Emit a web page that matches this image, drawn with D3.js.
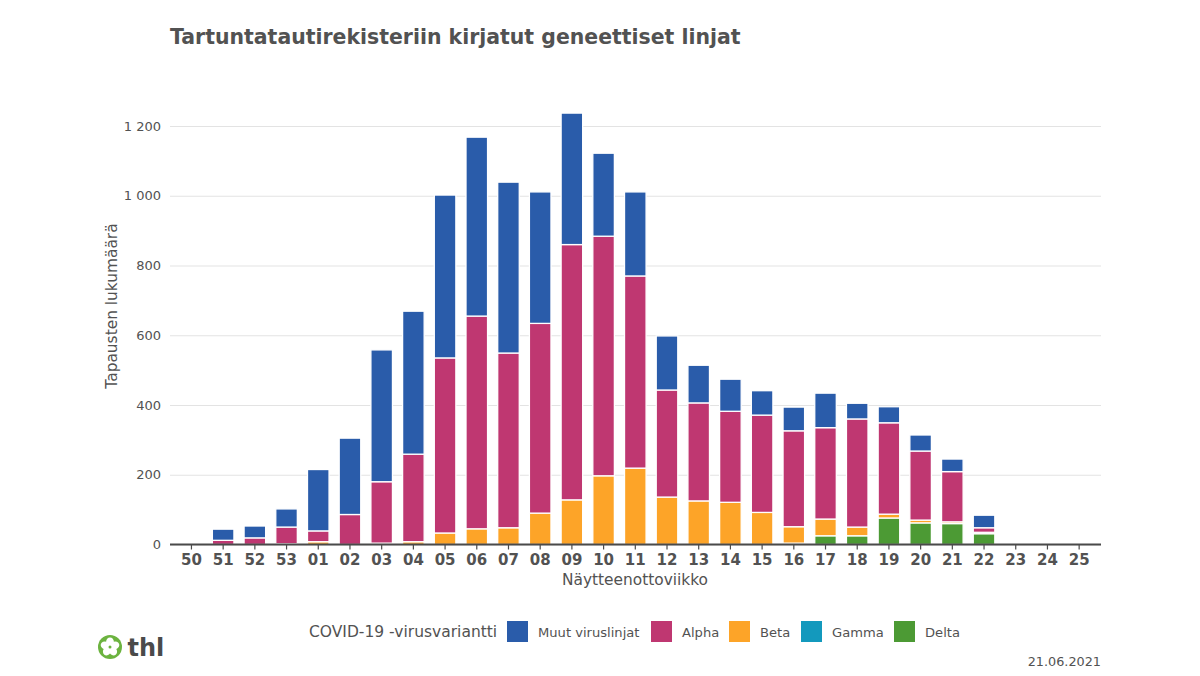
<!DOCTYPE html>
<html><head><meta charset="utf-8">
<script src="https://cdn.jsdelivr.net/npm/d3@7"></script>
<style>
html,body{margin:0;padding:0;background:#fff;}
svg{display:block;font-family:"DejaVu Sans",sans-serif;}
</style></head><body>
<svg id="c" width="1200" height="676"></svg>
<script>
const weeks=["50","51","52","53","01","02","03","04","05","06","07","08","09","10","11","12","13","14","15","16","17","18","19","20","21","22","23","24","25"];
const delta=[0,0,0,0,0,0,0,0,0,0,0,0,0,0,0,0,0,0,0,4,25,25,76,62,60,31,0,0,0];
const gamma=[0,0,0,0,0,0,0,0,0,0,0,0,0,0,0,0,0,0,0,0,0,0,0,0,0,0,0,0,0];
const beta=[0,0,0,2,8,0,4,8,33,45,48,90,128,197,219,136,125,121,92,47,48,25,11,8,5,4,0,0,0];
const alpha=[0,12,19,48,31,86,176,251,502,610,501,544,732,687,551,307,281,261,279,275,262,310,262,198,144,13,0,0,0];
const muut=[0,32,34,52,176,219,378,410,467,513,490,377,377,238,241,155,108,92,70,68,99,45,46,46,36,36,0,0,0];
const yTicks=[0,200,400,600,800,1000,1200];
const seriesNames=["Muut viruslinjat","Alpha","Beta","Gamma","Delta"];
const seriesColors=["#2a5caa","#bf3771","#fda428","#1399bd","#4c9a34"];
const seriesValues=[muut,alpha,beta,gamma,delta];

const svg=d3.select("#c");
const L=170,R=1101,T=126,B=544.5;
const txt="#525252";
const x=d3.scaleBand().domain(weeks).range([175.6,1095]).paddingInner(0.32).paddingOuter(0.16);
const y=d3.scaleLinear().domain([0,1200]).range([B,T]);

svg.append("text").attr("x",170).attr("y",44).attr("font-size",20.45).attr("font-weight","bold").attr("fill",txt)
  .text("Tartuntatautirekisteriin kirjatut geneettiset linjat");

// grid + y labels
const yAxis=d3.axisLeft(y).tickValues(yTicks).tickSize(L-R).tickPadding(9)
  .tickFormat(d=>d3.format(",")(d).replace(",","\u00a0"));
const gy=svg.append("g").attr("transform",`translate(${L},0)`).call(yAxis);
gy.select(".domain").remove();
gy.selectAll(".tick line").attr("x1",0).attr("x2",R-L).attr("stroke","#e3e3e3").attr("stroke-width",1.1);
gy.selectAll(".tick text").attr("font-family","DejaVu Sans").attr("font-size",13).attr("fill",txt);

// bars
const rows=weeks.map((w,i)=>{const o={week:w};seriesNames.forEach((n,k)=>o[n]=seriesValues[k][i]);return o;});
const stack=d3.stack().keys([...seriesNames].reverse())(rows);
const color=d3.scaleOrdinal(seriesNames,seriesColors);
svg.append("g").selectAll("g").data(stack).join("g").attr("fill",d=>color(d.key))
  .selectAll("rect").data(d=>d.filter(p=>p[1]>p[0])).join("rect")
  .attr("x",d=>x(d.data.week)).attr("width",x.bandwidth())
  .attr("y",d=>y(d[1])).attr("height",d=>y(d[0])-y(d[1]))
  .attr("stroke","#ffffff").attr("stroke-width",1.3);

// x axis
const gx=svg.append("g").attr("transform",`translate(0,${B})`).call(d3.axisBottom(x).tickSize(5).tickPadding(5));
gx.select(".domain").attr("d",`M${L},0H${R}`).attr("stroke","#4a4a4a").attr("stroke-width",2);
gx.selectAll(".tick line").attr("stroke","#4a4a4a").attr("stroke-width",1.2);
gx.selectAll(".tick text").attr("font-family","DejaVu Sans").attr("font-size",15).attr("font-weight","bold").attr("fill",txt);

svg.append("text").attr("x",635).attr("y",585).attr("text-anchor","middle").attr("font-size",15.4).attr("fill",txt).text("Näytteenottoviikko");
svg.append("text").attr("transform","translate(117,306) rotate(-90)").attr("text-anchor","middle").attr("font-size",15.4).attr("fill",txt).text("Tapausten lukumäärä");

// legend
svg.append("text").attr("x",309).attr("y",637).attr("font-size",15.5).attr("fill",txt).text("COVID-19 -virusvariantti");
const legX=[507,651,729,801,894], legT=[538,682,760,832,925];
seriesNames.forEach((n,i)=>{
  svg.append("rect").attr("x",legX[i]).attr("y",621).attr("width",21).attr("height",21).attr("fill",seriesColors[i]);
  svg.append("text").attr("x",legT[i]).attr("y",636.5).attr("font-size",13.1).attr("fill",txt).text(n);
});

svg.append("text").attr("x",1101).attr("y",666).attr("text-anchor","end").attr("font-size",12.8).attr("fill",txt).text("21.06.2021");

// logo
const lg=svg.append("g").attr("transform","translate(110,647)");
lg.append("circle").attr("r",12).attr("fill","#6cb33f");
d3.range(5).forEach(i=>lg.append("ellipse").attr("cx",0).attr("cy",-5).attr("rx",3.9).attr("ry",4.6).attr("fill","#fff").attr("transform",`rotate(${i*72})`));
lg.append("circle").attr("r",1.5).attr("fill","#6cb33f");
svg.append("text").attr("x",127.5).attr("y",656).attr("font-size",24).attr("font-weight","bold").attr("fill","#4a4a4a").text("thl");
</script>
</body></html>
